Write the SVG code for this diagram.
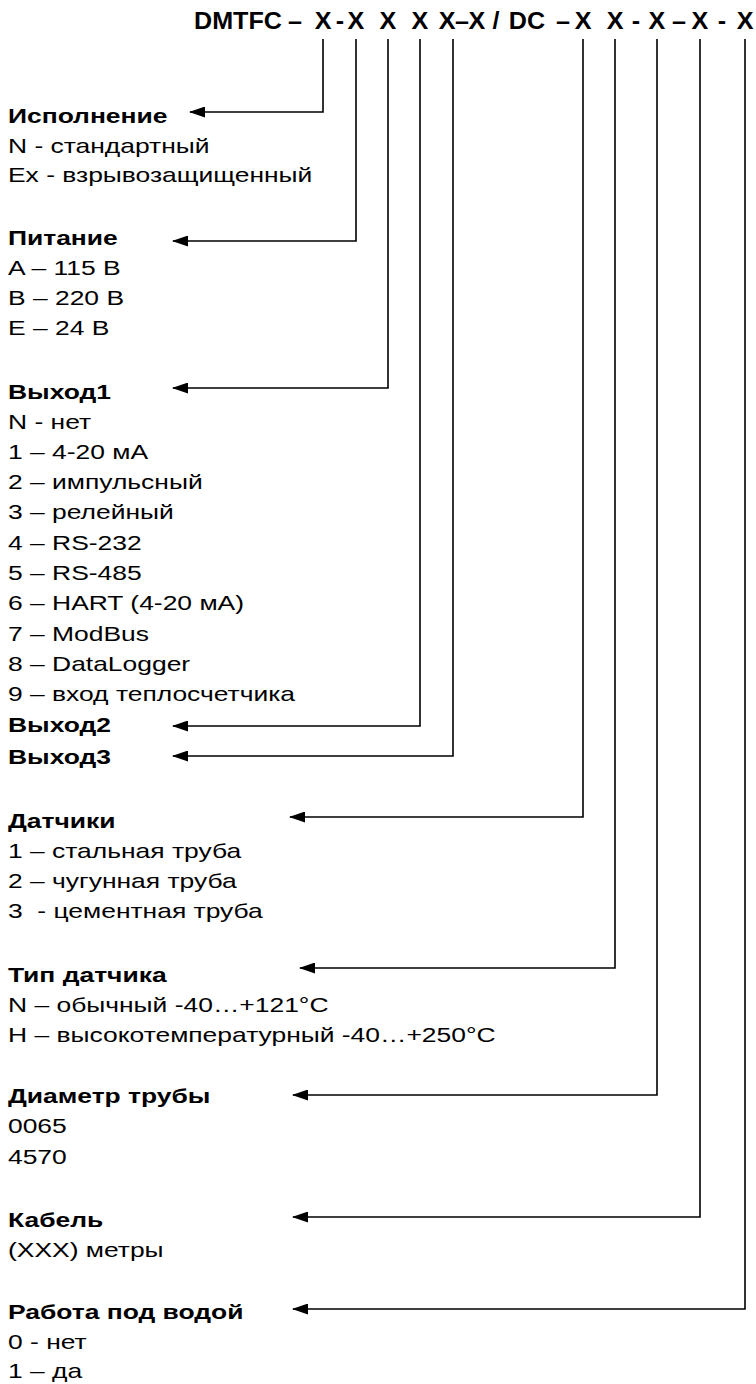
<svg xmlns="http://www.w3.org/2000/svg" width="756" height="1384" viewBox="0 0 756 1384">
<style>
text{font-family:"Liberation Sans",Arial,sans-serif;fill:#000}
.h{font-size:23.5px;font-weight:bold}
.t{font-size:20.5px}
.b{font-size:20.5px;font-weight:bold}
.c{fill:none;stroke:#000;stroke-width:1.6}
</style>
<defs>
<marker id="ah" markerUnits="userSpaceOnUse" markerWidth="16" markerHeight="11" refX="15" refY="5.5" orient="auto" viewBox="0 0 16 11">
<path d="M0 0 L16 5.5 L0 11 Z" fill="#000"/>
</marker>
</defs>
<rect width="756" height="1384" fill="#fff"/>
<g id="header" transform="scale(1.07 1)">
<text class="h" y="29" text-anchor="middle"><tspan x="222.4">DMTFC</tspan><tspan x="275.7">–</tspan><tspan x="301.9">X</tspan><tspan x="317.8">-</tspan><tspan x="332.7">X</tspan><tspan x="362.6">X</tspan><tspan x="392.5">X</tspan><tspan x="417.8">X</tspan><tspan x="431.8">–</tspan><tspan x="445.8">X</tspan><tspan x="463.6">/</tspan><tspan x="492.5">DC</tspan><tspan x="526.2">–</tspan><tspan x="544.9">X</tspan><tspan x="574.8">X</tspan><tspan x="594.4">-</tspan><tspan x="614">X</tspan><tspan x="634.6">–</tspan><tspan x="654.2">X</tspan><tspan x="674.8">-</tspan><tspan x="696.3">X</tspan></text>
</g>
<g id="connectors">
<path class="c" d="M323 39 V112 H190" marker-end="url(#ah)"/>
<path class="c" d="M356 39 V241 H173" marker-end="url(#ah)"/>
<path class="c" d="M388 39 V388 H173" marker-end="url(#ah)"/>
<path class="c" d="M420 39 V726 H173" marker-end="url(#ah)"/>
<path class="c" d="M453 39 V756 H173" marker-end="url(#ah)"/>
<path class="c" d="M583 39 V817 H290" marker-end="url(#ah)"/>
<path class="c" d="M615 39 V968 H300" marker-end="url(#ah)"/>
<path class="c" d="M657 39 V1095 H293" marker-end="url(#ah)"/>
<path class="c" d="M700 39 V1217 H293" marker-end="url(#ah)"/>
<path class="c" d="M745 39 V1309 H293" marker-end="url(#ah)"/>
</g>
<g transform="scale(1.29 1)">
<g id="ispolnenie">
<text class="b" x="6.2" y="123">Исполнение</text>
<text class="t" x="6.2" y="153">N - стандартный</text>
<text class="t" x="6.2" y="182">Ex - взрывозащищенный</text>
</g>
<g id="pitanie">
<text class="b" x="6.2" y="245">Питание</text>
<text class="t" x="6.2" y="275">A – 115 B</text>
<text class="t" x="6.2" y="305">B – 220 B</text>
<text class="t" x="6.2" y="335">E – 24 B</text>
</g>
<g id="vyhod1">
<text class="b" x="6.2" y="399">Выход1</text>
<text class="t" x="6.2" y="429">N - нет</text>
<text class="t" x="6.2" y="459">1 – 4-20 мА</text>
<text class="t" x="6.2" y="489">2 – импульсный</text>
<text class="t" x="6.2" y="519">3 – релейный</text>
<text class="t" x="6.2" y="550">4 – RS-232</text>
<text class="t" x="6.2" y="580">5 – RS-485</text>
<text class="t" x="6.2" y="610">6 – HART (4-20 мА)</text>
<text class="t" x="6.2" y="641">7 – ModBus</text>
<text class="t" x="6.2" y="671">8 – DataLogger</text>
<text class="t" x="6.2" y="701">9 – вход теплосчетчика</text>
</g>
<g id="vyhod2"><text class="b" x="6.2" y="732">Выход2</text></g>
<g id="vyhod3"><text class="b" x="6.2" y="764">Выход3</text></g>
<g id="datchiki">
<text class="b" x="6.2" y="828">Датчики</text>
<text class="t" x="6.2" y="858">1 – стальная труба</text>
<text class="t" x="6.2" y="888">2 – чугунная труба</text>
<text class="t" x="6.2" y="918" style="white-space:pre">3  - цементная труба</text>
</g>
<g id="tip">
<text class="b" x="6.2" y="982">Тип датчика</text>
<text class="t" x="6.2" y="1012">N – обычный -40…+121°C</text>
<text class="t" x="6.2" y="1042">H – высокотемпературный -40…+250°C</text>
</g>
<g id="diametr">
<text class="b" x="6.2" y="1103">Диаметр трубы</text>
<text class="t" x="6.2" y="1133">0065</text>
<text class="t" x="6.2" y="1164">4570</text>
</g>
<g id="kabel">
<text class="b" x="6.2" y="1227">Кабель</text>
<text class="t" x="6.2" y="1257">(XXX) метры</text>
</g>
<g id="rabota">
<text class="b" x="6.2" y="1319">Работа под водой</text>
<text class="t" x="6.2" y="1349">0 - нет</text>
<text class="t" x="6.2" y="1378">1 – да</text>
</g>
</g>
</svg>
